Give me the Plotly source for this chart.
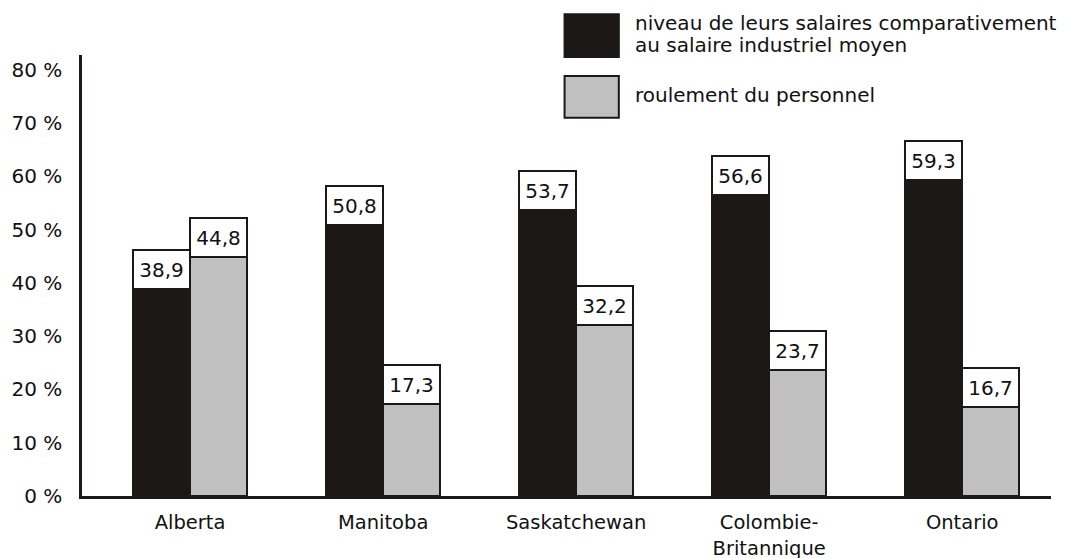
import plotly.graph_objects as go

# Data
provinces = ["Alberta", "Manitoba", "Saskatchewan", "Colombie-<br>Britannique", "Ontario"]
salaires = [38.9, 50.8, 53.7, 56.6, 59.3]
roulement = [44.8, 17.3, 32.2, 23.7, 16.7]
y_ticks = [0, 10, 20, 30, 40, 50, 60, 70, 80]
legend_salaires = ["niveau de leurs salaires comparativement", "au salaire industriel moyen"]
legend_roulement = ["roulement du personnel"]

BLACK = "#1c1818"
GRAY = "#c0c0c0"
FONT = "DejaVu Sans"
bar_w = 0.295

pos = list(range(len(provinces)))
x_black = [p - bar_w / 2 for p in pos]
x_gray = [p + bar_w / 2 for p in pos]

fig = go.Figure()
fig.add_trace(go.Bar(x=x_black, y=salaires, width=bar_w, marker=dict(color=BLACK, line=dict(color=BLACK, width=2)),
                     showlegend=False))
fig.add_trace(go.Bar(x=x_gray, y=roulement, width=bar_w, marker=dict(color=GRAY, line=dict(color=BLACK, width=2)),
                     showlegend=False))

# value boxes above the bars
def fmt(v):
    return f"{v:.1f}".replace(".", ",")

for xs, vals in [(x_black, salaires), (x_gray, roulement)]:
    for x, v in zip(xs, vals):
        fig.add_annotation(x=x, y=v, text=fmt(v), showarrow=False, yanchor="bottom", yshift=-1,
                           width=55, height=37, borderpad=0, borderwidth=2, bordercolor=BLACK,
                           bgcolor="white", font=dict(family=FONT, size=20, color="#111"))

# legend drawn as squares + text (one annotation per line for tight spacing)
plot_h = 443
for y0, y1, col, lines in [(1.0926, 0.9955, BLACK, legend_salaires), (0.9526, 0.8578, GRAY, legend_roulement)]:
    fig.add_shape(type="rect", xref="paper", yref="paper", x0=0.498, x1=0.554, y0=y1, y1=y0,
                  fillcolor=col, line=dict(color=BLACK, width=2))
    mid = (y0 + y1) / 2
    step = 22 / plot_h
    start = mid + step * (len(lines) - 1) / 2
    for i, txt in enumerate(lines):
        fig.add_annotation(xref="paper", yref="paper", x=0.569, y=start - i * step + 0.003, text=txt,
                           showarrow=False, xanchor="left", yanchor="middle", align="left",
                           font=dict(family=FONT, size=20, color="#111"))

# page body adds 8px margin, so the figure is sized to fit the window
fig.update_layout(
    width=1067, height=550,
    margin=dict(l=74, r=24, t=47, b=62, autoexpand=False),
    plot_bgcolor="white", paper_bgcolor="white",
    bargap=0,
    font=dict(family=FONT, size=20, color="#111"),
    xaxis=dict(range=[-0.56, 4.46], tickvals=pos, ticktext=provinces, showline=True, linecolor=BLACK,
               linewidth=2.5, showgrid=False, zeroline=False, ticks="", ticklabelstandoff=7,
               automargin=False, tickfont=dict(family=FONT, size=19.5)),
    yaxis=dict(range=[0, 82.8], tickvals=y_ticks, ticktext=[f"{t} %" for t in y_ticks], showline=True,
               linecolor=BLACK, linewidth=2.5, showgrid=False, zeroline=False, ticks="",
               ticklabelstandoff=13, automargin=False, tickfont=dict(family=FONT, size=20)),
)

fig.write_html("out.html")
